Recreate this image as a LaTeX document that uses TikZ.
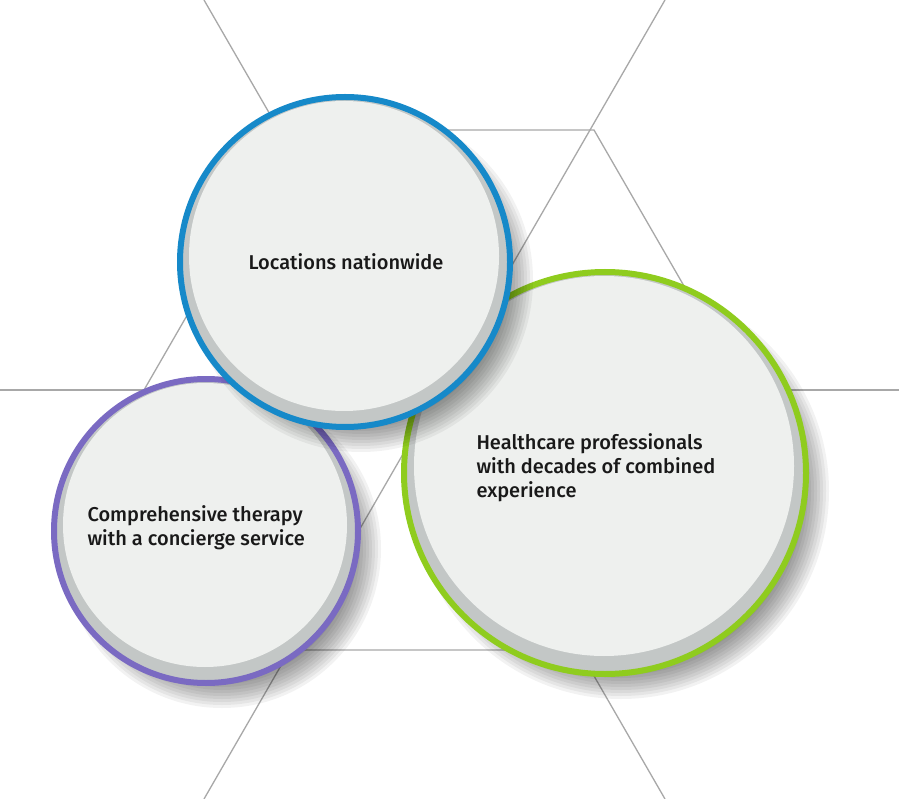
\documentclass[tikz,border=0pt]{standalone}
\usepackage{fontspec}
\setmainfont{Fira Sans}[UprightFont=* Medium]
\usetikzlibrary{calc}
\definecolor{gridc}{HTML}{A8A8A8}
\definecolor{bluec}{HTML}{1689C9}
\definecolor{purplec}{HTML}{7A6AC2}
\definecolor{greenc}{HTML}{8FCC1E}
\definecolor{facec}{HTML}{EEF0EE}
\definecolor{rimc}{HTML}{C3C7C6}
\tikzset{
  gridline/.style={draw=gridc, line width=1.3pt},
  ring/.style={circle, line width=6pt, inner sep=0pt},
  lbl/.style={font=\fontsize{20}{24}\selectfont, text=black!90, align=left}
}
\newcommand{\softshadow}[3]{%
  \foreach \k in {0,...,11} {
    \fill[black, opacity=0.05] ($(#1,#2)+(16,18)$) circle ({#3+4-3*\k});
  }%
}
\begin{document}
\begin{tikzpicture}[x=1pt,y=-1pt]
\useasboundingbox (0,0) rectangle (899,799);
\fill[white] (0,0) rectangle (899,799);
% grid
\draw[gridline] (0,390) -- (899,390);
\draw[gridline] (665,0) -- (204,799);
\draw[gridline] (204,0) -- (665,799);
\draw[gridline] (144,390) -- (294,130) -- (594,130) -- (744,390) -- (594,650) -- (294,650) -- cycle;
% purple
\softshadow{206}{531}{155}
\node[ring, draw=purplec, fill=rimc, minimum size=304pt] (p) at (206,531) {};
\fill[facec] (205,525) circle (142);
% green
\softshadow{605}{473}{204}
\node[ring, draw=greenc, fill=rimc, minimum size=402pt] (g) at (605,473) {};
\fill[facec] (604,466) circle (190);
% blue
\softshadow{345}{262}{168}
\node[ring, draw=bluec, fill=rimc, minimum size=330pt] (b) at (345,262) {};
\fill[facec] (344,256) circle (155);
% texts
\node[lbl] (tb) at (346,262) {Locations nationwide};
\node[lbl, anchor=north west] (tg) at (473,430) {Healthcare professionals\\with decades of combined\\experience};
\node[lbl, anchor=north west] (tp) at (84,502) {Comprehensive therapy\\with a concierge service};
\end{tikzpicture}
\end{document}
